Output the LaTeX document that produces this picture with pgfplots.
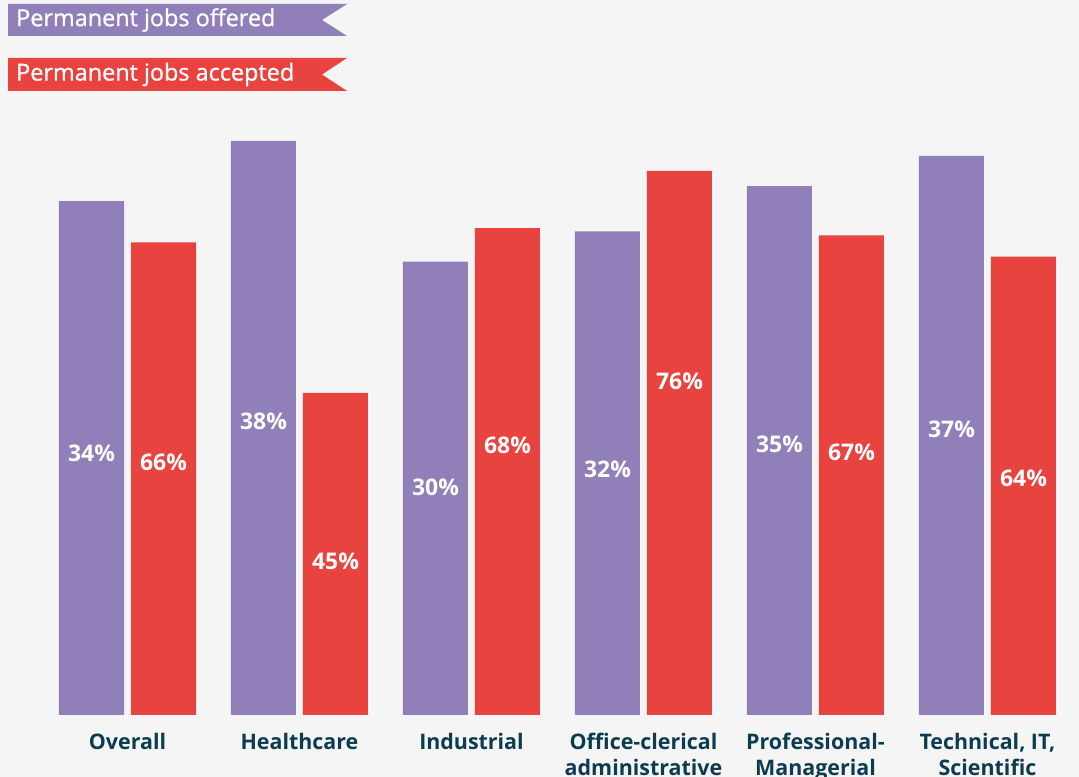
\documentclass[border=0pt]{standalone}
\usepackage{fontspec}
\setmainfont{Open Sans}
\newfontfamily\legfont{Open Sans}[FakeBold=0.9]
\usepackage{pgfplots}
\pgfplotsset{compat=1.18}
\usepackage{pgfplotstable}

\definecolor{bg}{HTML}{F5F5F5}
\definecolor{purp}{HTML}{917FBA}
\definecolor{redc}{HTML}{E8433E}
\definecolor{navy}{HTML}{0B3D4F}

% x = category index; offer/accept = bar values (%); lo/la = label heights (%)
\pgfplotstableread{
x offer accept lo    la
0 34    66     17.34 35.3
1 38    45     19.46 21.4
2 30    68     15.09 37.6
3 32    76     16.28 46.6
4 35    67     17.94 36.7
5 37    64     18.93 33.0
}\jobs

% the two series are drawn to different scales in the original
\def\sOffer{15.11}
\def\sAccept{7.16}

\begin{document}
\begin{tikzpicture}[x=1bp,y=1bp]
  \path[use as bounding box, fill=bg] (0,0) rectangle (1079,777);
  \begin{axis}[
    name=ax, at={(0,62)}, anchor=south west,
    scale only axis, width=1079bp, height=715bp,
    xmin=-0.7413, xmax=5.532, ymin=0, ymax=715,
    axis line style={draw=none}, tick style={draw=none},
    ytick=\empty, clip=false,
    xtick={0,...,5},
    xticklabels={Overall, Healthcare, Industrial, {Office-clerical\\administrative},
      {Professional-\\Managerial}, {Technical, IT,\\Scientific}},
    xticklabel style={align=center, inner sep=0pt, anchor=north, yshift=-18bp,
      font=\fontsize{21.5}{26}\selectfont\bfseries, text=navy},
    bar width=65bp,
    every node near coord/.append style={anchor=center, text=white,
      font=\fontsize{23}{26}\selectfont\bfseries},
  ]
    \addplot[ybar, bar shift=-36bp, fill=purp, draw=none]
      table[x=x, y expr=\thisrow{offer}*\sOffer] {\jobs};
    \addplot[ybar, bar shift=36bp, fill=redc, draw=none]
      table[x=x, y expr=\thisrow{accept}*\sAccept] {\jobs};
    \addplot[draw=none, mark=none, point meta=explicit symbolic,
      nodes near coords={\pgfplotspointmeta\%},
      every node near coord/.append style={xshift=-36bp}]
      table[x=x, y expr=\thisrow{lo}*\sOffer, meta=offer] {\jobs};
    \addplot[draw=none, mark=none, point meta=explicit symbolic,
      nodes near coords={\pgfplotspointmeta\%},
      every node near coord/.append style={xshift=36bp}]
      table[x=x, y expr=\thisrow{la}*\sAccept, meta=accept] {\jobs};
  \end{axis}
  % legend flags
  \fill[purp] (8,773) -- (347,773) -- (322,757) -- (347,741) -- (8,741) -- cycle;
  \node[anchor=west, inner sep=0pt, text=white, font=\fontsize{23.5}{26}\legfont] at (16,757) {Permanent jobs offered};
  \fill[redc] (8,719) -- (347,719) -- (322,702.5) -- (347,686) -- (8,686) -- cycle;
  \node[anchor=west, inner sep=0pt, text=white, font=\fontsize{23.5}{26}\legfont] at (16,702.5) {Permanent jobs accepted};
\end{tikzpicture}
\end{document}
